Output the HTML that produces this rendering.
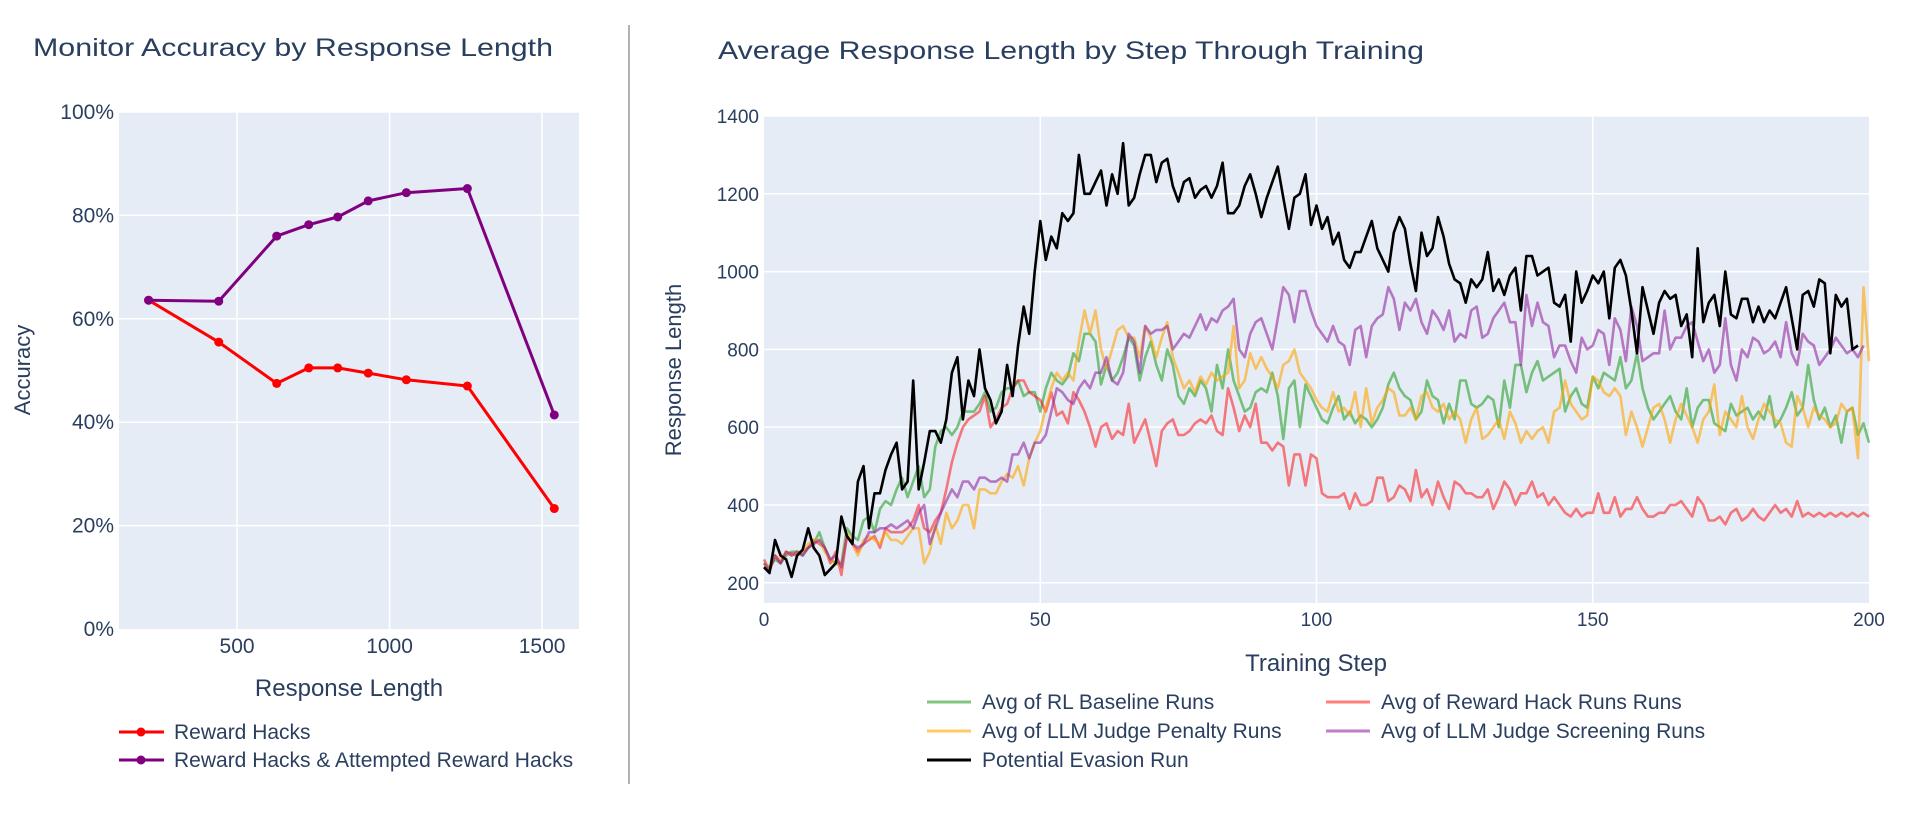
<!DOCTYPE html>
<html><head><meta charset="utf-8"><style>
html,body{margin:0;padding:0;background:#fff;}
svg{display:block;font-family:"Liberation Sans",sans-serif;}
</style></head><body>
<svg id="root" width="1920" height="813" viewBox="0 0 1920 813" xmlns="http://www.w3.org/2000/svg">
<line x1="629" y1="25" x2="629" y2="784" stroke="#666" stroke-width="1"/>
<text x="33" y="56" font-size="25" fill="#2a3f5f" textLength="520" lengthAdjust="spacingAndGlyphs">Monitor Accuracy by Response Length</text>
<text x="718" y="59" font-size="25" fill="#2a3f5f" textLength="706" lengthAdjust="spacingAndGlyphs">Average Response Length by Step Through Training</text>
<g id="left"></g>
<g id="right"></g>
</svg>
<script>
// ---------- Left chart data ----------
const accLengths = [210,440,630,735,830,930,1055,1255,1540];
const rewardHacks = [63.6,55.5,47.5,50.5,50.5,49.5,48.2,47.0,23.3];
const attemptedHacks = [63.6,63.4,76.0,78.2,79.7,82.8,84.4,85.2,41.4];
const accYTicks = [0,20,40,60,80,100];
const accXTicks = [500,1000,1500];

// ---------- Right chart data ----------
const baselineRuns = [250,240,260,250,270,280,280,270,290,300,330,290,260,250,250,340,320,310,360,370,330,390,410,400,440,470,420,460,500,420,440,550,590,600,580,600,640,640,640,660,690,640,650,690,700,700,720,680,690,690,640,700,740,720,710,730,790,770,840,840,820,710,760,720,740,780,830,810,720,780,820,760,720,800,760,680,660,700,680,720,700,640,760,700,800,720,680,640,650,690,700,690,740,680,570,700,720,600,710,680,650,620,610,650,680,620,640,610,630,620,600,620,650,710,740,700,680,670,620,640,720,680,670,610,660,620,720,720,660,650,660,680,670,600,720,650,760,760,690,740,770,720,730,740,750,640,680,700,660,650,730,700,740,730,720,780,700,720,790,700,650,620,640,660,680,640,620,700,600,650,670,670,610,600,590,660,630,640,650,620,640,620,680,600,620,650,690,630,650,760,670,620,650,600,630,560,640,650,580,610,560];
const rewardHackRuns = [260,230,270,250,280,275,270,280,290,310,300,290,250,280,220,320,300,280,300,310,320,290,340,330,330,330,340,360,400,340,330,360,380,440,510,560,600,620,630,640,680,600,620,650,660,700,720,720,690,680,670,640,690,630,640,610,690,670,640,600,550,600,610,570,590,580,660,560,590,620,560,500,590,610,620,580,580,590,610,620,610,630,590,580,700,650,590,630,600,660,560,560,540,560,550,450,530,530,450,530,520,430,420,420,420,430,390,430,400,400,410,470,470,410,420,450,440,410,490,420,440,400,460,420,390,460,450,430,430,420,420,440,390,420,460,440,400,430,430,460,420,430,400,420,400,380,370,390,370,380,380,430,380,380,420,370,390,390,420,390,370,370,380,380,400,400,410,390,370,420,400,360,360,370,350,380,390,360,370,390,370,360,380,400,380,390,370,410,370,380,370,380,370,380,370,380,370,380,370,380,370];
const penaltyRuns = [250,240,270,260,280,270,280,280,300,310,310,280,260,250,240,330,300,270,310,320,310,300,330,310,310,300,320,340,340,250,280,350,300,380,340,360,400,400,340,440,440,430,430,460,480,470,500,450,520,560,590,650,700,740,720,740,720,820,900,840,900,800,750,800,850,860,830,830,780,860,830,780,830,870,780,740,700,720,690,730,710,740,720,730,740,860,700,720,790,750,780,750,730,700,760,770,800,740,720,700,670,650,640,690,640,650,630,690,600,700,610,650,670,700,690,630,630,650,620,680,690,650,640,660,620,640,620,560,620,650,570,580,600,620,570,640,610,560,590,570,590,600,560,640,650,720,660,640,620,630,730,720,690,680,700,680,580,640,600,550,600,650,660,620,560,620,660,630,600,560,620,640,710,580,640,620,600,680,600,570,620,660,640,620,610,560,550,680,650,600,650,630,620,600,610,660,640,650,520,960,770];
const screeningRuns = [250,230,270,250,280,270,280,270,290,300,310,290,260,270,240,320,300,290,300,330,330,340,340,350,340,350,360,340,380,400,300,340,380,410,440,420,460,460,440,470,470,460,460,470,460,530,530,560,520,560,560,580,640,700,690,670,660,700,720,700,740,740,780,720,710,740,840,820,740,860,840,850,850,860,800,820,840,830,860,890,850,880,870,900,910,930,800,780,840,870,880,840,800,880,960,940,870,950,950,900,860,840,820,860,820,810,760,850,860,780,860,880,890,960,930,850,920,900,930,870,840,900,880,850,900,820,840,830,900,910,830,840,880,900,920,870,870,760,940,860,920,870,860,780,810,810,770,740,830,800,810,850,840,760,880,850,770,910,860,770,780,790,790,900,800,830,830,860,870,820,770,800,740,760,880,760,720,800,780,830,820,790,800,820,780,870,790,760,840,820,810,760,780,800,830,810,790,800,780,810];
const evasionRun = [240,225,310,270,260,215,270,285,340,290,270,220,235,250,370,320,300,460,500,340,430,430,490,530,560,440,460,720,440,510,590,590,560,620,740,780,620,720,680,800,700,670,610,640,760,680,810,910,840,1000,1130,1030,1090,1060,1150,1130,1150,1300,1200,1200,1230,1260,1170,1250,1200,1330,1170,1190,1250,1300,1300,1230,1280,1290,1220,1180,1230,1240,1190,1210,1220,1190,1220,1280,1150,1150,1170,1220,1250,1200,1140,1190,1230,1270,1190,1110,1190,1200,1250,1120,1170,1110,1140,1070,1100,1030,1010,1050,1050,1090,1130,1060,1030,1000,1100,1140,1110,1020,950,1100,1040,1060,1140,1090,1020,980,970,920,980,960,980,1050,950,980,940,990,1010,900,1040,1040,990,1000,1010,920,910,940,820,1000,920,950,990,970,1000,880,1010,1030,990,900,790,960,900,840,920,950,930,940,860,890,780,1060,870,920,940,860,1000,890,880,930,930,870,910,870,900,880,920,960,880,800,940,950,910,980,970,790,940,910,930,800,810];
const lenYTicks = [200,400,600,800,1000,1200,1400];
const lenXTicks = [0,50,100,150,200];
const seriesNames = ["Avg of RL Baseline Runs","Avg of Reward Hack Runs Runs","Avg of LLM Judge Penalty Runs","Avg of LLM Judge Screening Runs","Potential Evasion Run"];

const NS="http://www.w3.org/2000/svg";
function mk(tag, attrs, parent){const e=document.createElementNS(NS,tag);for(const k in attrs)e.setAttribute(k,attrs[k]);parent.appendChild(e);return e;}
const TXT="#2a3f5f";

// ----- Left chart -----
(function(){
  const g=document.getElementById('left');
  const L=119,R=579,T=112,B=629;
  const xMin=113,xMax=1621;
  const sx=v=>L+(v-xMin)/(xMax-xMin)*(R-L);
  const sy=v=>B-(v/100)*(B-T);
  const bg=mk('rect',{x:L,y:T,width:R-L,height:B-T,fill:'#e5ecf6'},g);
  
  
  accYTicks.forEach(t=>{
    if(t>0){const ln=mk('line',{x1:L,x2:R,y1:sy(t),y2:sy(t),stroke:'#fff','stroke-width':1.5},g);
    
    }
    const tx=mk('text',{x:L-5,y:sy(t)+7,'text-anchor':'end','font-size':21,fill:TXT},g);
    tx.textContent=t+'%';
    
    
  });
  accXTicks.forEach(t=>{
    const ln=mk('line',{x1:sx(t),x2:sx(t),y1:T,y2:B,stroke:'#fff','stroke-width':1.5},g);
    
    
    const tx=mk('text',{x:sx(t),y:653,'text-anchor':'middle','font-size':21,fill:TXT},g);
    tx.textContent=t;
    
    
  });
  const yt=mk('text',{x:0,y:0,transform:'translate(30,370) rotate(-90)','text-anchor':'middle','font-size':22,fill:TXT},g);
  yt.textContent='Accuracy';
  
  
  const xt=mk('text',{x:349,y:696,'text-anchor':'middle','font-size':24,fill:TXT},g);
  xt.textContent='Response Length';
  
  
  [[rewardHacks,'#ff0000','reward-hacks'],[attemptedHacks,'#800080','attempted-reward-hacks']].forEach(([d,c,n])=>{
    const pts=d.map((v,i)=>sx(accLengths[i]).toFixed(1)+','+sy(v).toFixed(1)).join(' ');
    const pl=mk('polyline',{points:pts,fill:'none',stroke:c,'stroke-width':3,'stroke-linejoin':'round'},g);
    
    
    d.forEach((v,i)=>{const c0=mk('circle',{cx:sx(accLengths[i]),cy:sy(v),r:4.5,fill:c},g);
      
      });
  });
  const leg=[['Reward Hacks','#ff0000',732],['Reward Hacks & Attempted Reward Hacks','#800080',760]];
  leg.forEach(([t,c,y])=>{
    const lg=mk('g',{},g);
    
    
    mk('line',{x1:119,x2:164,y1:y,y2:y,stroke:c,'stroke-width':3},lg);
    mk('circle',{cx:141,cy:y,r:4.5,fill:c},lg);
    const tx=mk('text',{x:174,y:y+7,'font-size':21,fill:TXT},lg);
    tx.textContent=t;
  });
})();

// ----- Right chart -----
(function(){
  const g=document.getElementById('right');
  const L=764,R=1869,T=116,B=603;
  const yMin=148,yMax=1400;
  const sx=v=>L+(v/200)*(R-L);
  const sy=v=>B-(v-yMin)/(yMax-yMin)*(B-T);
  const bg=mk('rect',{x:L,y:T,width:R-L,height:B-T,fill:'#e5ecf6'},g);
  
  
  lenYTicks.forEach(t=>{
    const ln=mk('line',{x1:L,x2:R,y1:sy(t),y2:sy(t),stroke:'#fff','stroke-width':1.5},g);
    
    
    const tx=mk('text',{x:L-5,y:sy(t)+7,'text-anchor':'end','font-size':19,fill:TXT},g);
    tx.textContent=t;
    
    
  });
  lenXTicks.forEach(t=>{
    if(t>0&&t<200){const ln=mk('line',{x1:sx(t),x2:sx(t),y1:T,y2:B,stroke:'#fff','stroke-width':1.5},g);
    
    }
    const tx=mk('text',{x:sx(t),y:626,'text-anchor':'middle','font-size':19,fill:TXT},g);
    tx.textContent=t;
    
    
  });
  const yt=mk('text',{x:0,y:0,transform:'translate(681,370) rotate(-90)','text-anchor':'middle','font-size':22,fill:TXT},g);
  yt.textContent='Response Length';
  
  
  const xt=mk('text',{x:1316,y:671,'text-anchor':'middle','font-size':24,fill:TXT},g);
  xt.textContent='Training Step';
  
  
  const series=[
    [baselineRuns,'rgb(44,160,44)',0.6,'baseline'],
    [rewardHackRuns,'rgb(255,0,0)',0.5,'reward-hack'],
    [penaltyRuns,'rgb(255,165,0)',0.6,'judge-penalty'],
    [screeningRuns,'rgb(148,40,160)',0.6,'judge-screening'],
    [evasionRun,'#000000',1,'evasion']
  ];
  series.forEach(([d,c,o,n])=>{
    const pts=d.map((v,i)=>sx(i).toFixed(1)+','+sy(v).toFixed(1)).join(' ');
    const pl=mk('polyline',{points:pts,fill:'none',stroke:c,'stroke-opacity':o,'stroke-width':2.6,'stroke-linejoin':'round'},g);
    
    
  });
  const legPos=[[927,702],[1326,702],[927,731],[1326,731],[927,760]];
  series.forEach(([d,c,o,n],i)=>{
    const [x,y]=legPos[i];
    const lg=mk('g',{},g);
    
    
    mk('line',{x1:x,x2:x+44,y1:y,y2:y,stroke:c,'stroke-opacity':o,'stroke-width':3},lg);
    const tx=mk('text',{x:x+55,y:y+7,'font-size':21,fill:TXT},lg);
    tx.textContent=seriesNames[i];
  });
})();
</script>
</body></html>
